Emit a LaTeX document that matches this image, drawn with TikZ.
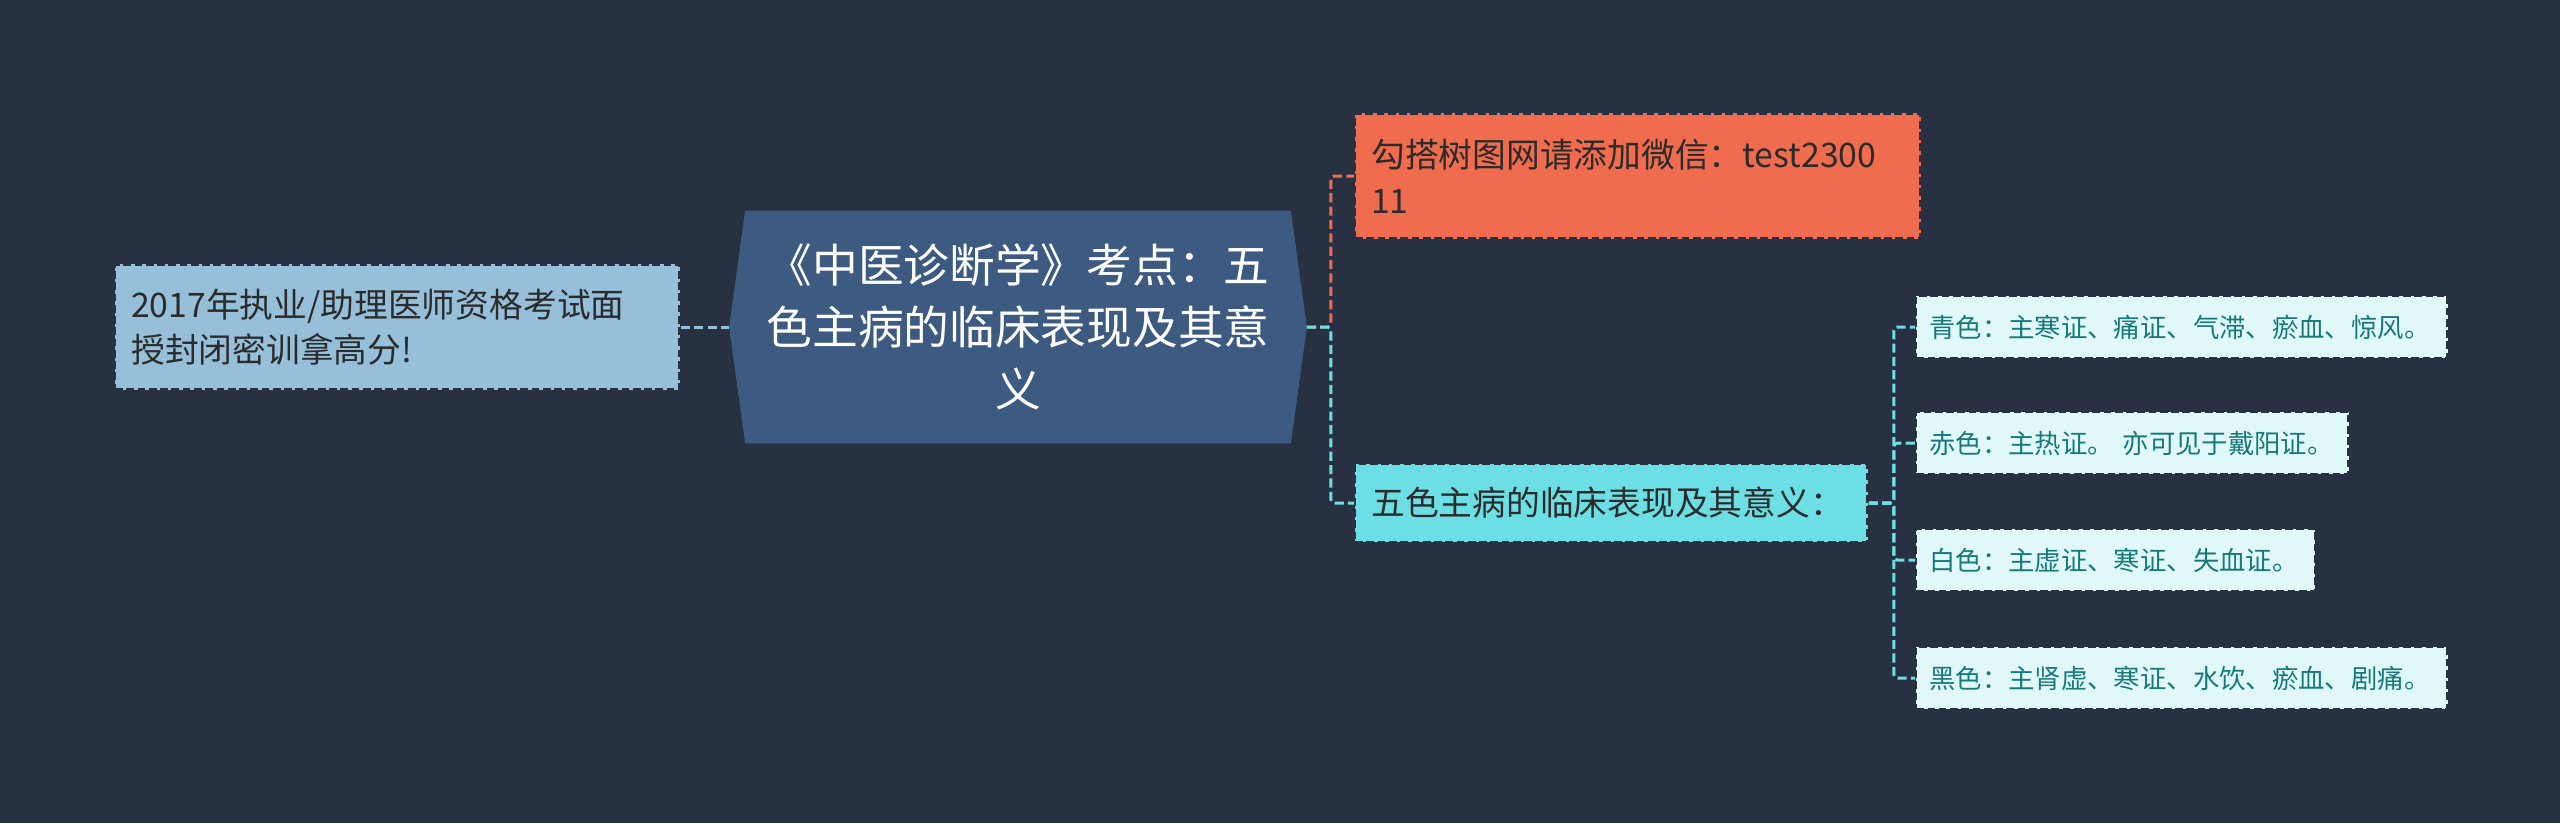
\documentclass[tikz,border=0pt]{standalone}
\usepackage{fontspec}
\setmainfont{Noto Sans CJK SC}
\usetikzlibrary{positioning,backgrounds}
\definecolor{bgnavy}{HTML}{283142}
\definecolor{mainblue}{HTML}{3D5A80}
\definecolor{paleblue}{HTML}{96BFDA}
\definecolor{wxorange}{HTML}{EF6C4E}
\definecolor{fivecyan}{HTML}{6CDFE4}
\definecolor{leaffill}{HTML}{E1F8F8}
\definecolor{leaftext}{HTML}{17797C}
\definecolor{darktext}{HTML}{2B2B2B}

\begin{document}
\begin{tikzpicture}[x=0.01cm,y=-0.01cm,
  box/.style={draw=bgnavy, dash pattern=on 2.2pt off 1pt, line width=0.7pt,
    anchor=west, align=left, inner xsep=0.16cm, inner ysep=0pt, text=darktext,
    font=\fontsize{9.6}{13}\selectfont},
  leaf/.style={box, fill=leaffill, text=leaftext, inner xsep=0.13cm,
    minimum height=0.62cm, font=\fontsize{7.5}{10}\selectfont},
  link/.style={dash pattern=on 2.6pt off 1.2pt, line width=0.85pt, rounded corners=1pt}]
\begin{pgfonlayer}{background}
\fill[bgnavy] (0,0) rectangle (2560,823);
\end{pgfonlayer}
\useasboundingbox (0,0) rectangle (2560,823);

% central topic
\node[text=white, align=center, inner sep=0pt, minimum width=5.76cm, minimum height=2.31cm,
  font=\fontsize{13}{17.6}\selectfont] (main) at (1018,327)
  {《中医诊断学》考点：五\\色主病的临床表现及其意\\义};
\begin{pgfonlayer}{background}
\fill[mainblue] ([xshift=0.16cm]main.north west) -- ([xshift=-0.16cm]main.north east) -- (main.east)
  -- ([xshift=-0.16cm]main.south east) -- ([xshift=0.16cm]main.south west) -- (main.west) -- cycle;
\end{pgfonlayer}

% left branch
\node[box, fill=paleblue, text width=5.32cm, minimum height=1.25cm] (exam) at (114,327)
  {2017年执业/助理医师资格考试面\\授封闭密训拿高分!};

% right branches
\node[box, fill=wxorange, text width=5.33cm, minimum height=1.25cm] (wechat) at (1354,176)
  {勾搭树图网请添加微信：test2300\\11};
\node[box, fill=fivecyan, text width=4.80cm, minimum height=0.78cm] (five) at (1354,503)
  {五色主病的临床表现及其意义：};

% five colours
\node[leaf, text width=5.05cm] (qing) at (1915,327) {青色：主寒证、痛证、气滞、瘀血、惊风。};
\node[leaf, text width=4.06cm] (chi) at (1915,443) {赤色：主热证。 亦可见于戴阳证。};
\node[leaf, text width=3.73cm] (bai) at (1915,560) {白色：主虚证、寒证、失血证。};
\node[leaf, text width=5.05cm] (hei) at (1915,678) {黑色：主肾虚、寒证、水饮、瘀血、剧痛。};

\draw[link, paleblue] (exam.east) -- (main.west);
\draw[link, wxorange] (main.east) -- ++(24,0) |- (wechat.west);
\draw[link, fivecyan] (main.east) -- ++(24,0) |- (five.west);
\draw[link, fivecyan] (five.east) -- ++(25,0) |- (qing.west);
\draw[link, fivecyan] (five.east) -- ++(25,0) |- (chi.west);
\draw[link, fivecyan] (five.east) -- ++(25,0) |- (bai.west);
\draw[link, fivecyan] (five.east) -- ++(25,0) |- (hei.west);
\end{tikzpicture}
\end{document}
